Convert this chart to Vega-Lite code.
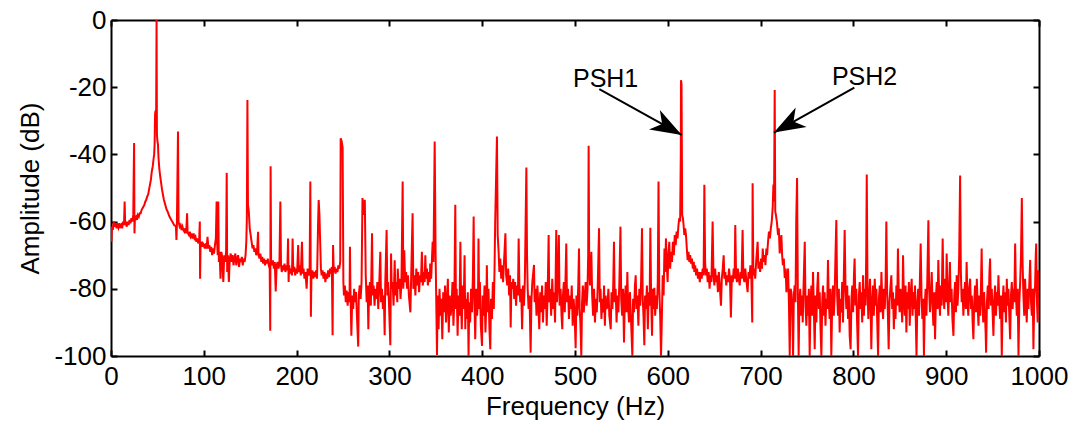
{
"$schema": "https://vega.github.io/schema/vega-lite/v6.json",
"width": 928, "height": 336,
"autosize": {"type": "none"},
"padding": {"left": 111, "top": 20, "right": 30, "bottom": 69},
"background": "white",
"config": {"view": {"stroke": null}, "font": "Liberation Sans",
 "axis": {"grid": false, "domainColor": "black", "domainWidth": 2, "tickColor": "black", "tickWidth": 2, "tickSize": -6, "labelColor": "black", "labelFontSize": 26, "labelFont": "Liberation Sans", "titleFont": "Liberation Sans", "titleFontSize": 26, "titleFontWeight": "normal", "titleColor": "black", "labelFlush": false, "labelOverlap": false}},
"datasets": {
"spectrum": [
{"f":0,"a":-62},{"f":0.5,"a":-66},{"f":1,"a":-61.5},{"f":2,"a":-62.5},{"f":3,"a":-60},{"f":4,"a":-61.5},{"f":5,"a":-60.5},{"f":6,"a":-62},{"f":7,"a":-61},{"f":8,"a":-61.8},{"f":9,"a":-60.5},{"f":10,"a":-61.5},{"f":11,"a":-61},{"f":12,"a":-62},{"f":13,"a":-60},{"f":14,"a":-61},{"f":14.7,"a":-54},{"f":15.3,"a":-61},{"f":16,"a":-60.5},{"f":17,"a":-61.5},{"f":18,"a":-60},{"f":19,"a":-61},{"f":20,"a":-59.5},{"f":21,"a":-60.5},{"f":22,"a":-59},{"f":23,"a":-60},{"f":24,"a":-58},{"f":24.5,"a":-45},{"f":24.9,"a":-36.6},{"f":25.3,"a":-63.5},{"f":25.8,"a":-59},{"f":27,"a":-58.5},{"f":28,"a":-59.5},{"f":29,"a":-58},{"f":30,"a":-58.5},{"f":31,"a":-57.5},{"f":32,"a":-57.5},{"f":33,"a":-56.5},{"f":34,"a":-56},{"f":35,"a":-55.5},{"f":36,"a":-55},{"f":37,"a":-54},{"f":38,"a":-53.5},{"f":39,"a":-52.5},{"f":40,"a":-52},{"f":41,"a":-50.5},{"f":42,"a":-49},{"f":43,"a":-47.5},{"f":44,"a":-45},{"f":45,"a":-43.5},{"f":46,"a":-41},{"f":46.5,"a":-40},{"f":47,"a":-37},{"f":47.5,"a":-28},{"f":48,"a":-27},{"f":48.6,"a":-31},{"f":49.1,"a":0},{"f":49.5,"a":-34},{"f":50,"a":-36},{"f":50.6,"a":-37},{"f":51.2,"a":-41},{"f":52,"a":-44},{"f":53,"a":-46.5},{"f":54,"a":-48.5},{"f":55,"a":-50.5},{"f":56,"a":-52},{"f":57,"a":-53.5},{"f":58,"a":-54.5},{"f":59,"a":-55.5},{"f":60,"a":-56.5},{"f":61,"a":-57},{"f":62,"a":-57.8},{"f":63,"a":-58.5},{"f":64,"a":-59},{"f":65,"a":-59.5},{"f":66,"a":-60},{"f":67,"a":-60.5},{"f":68,"a":-61},{"f":69,"a":-61.2},{"f":70,"a":-61.5},{"f":70.5,"a":-65.5},{"f":71,"a":-61},{"f":72.2,"a":-33.2},{"f":72.8,"a":-60},{"f":74,"a":-61.5},{"f":75,"a":-61},{"f":76,"a":-62.5},{"f":77,"a":-61.5},{"f":78,"a":-62.5},{"f":79,"a":-63},{"f":80,"a":-62},{"f":81,"a":-63.5},{"f":82,"a":-57.5},{"f":82.5,"a":-63},{"f":83,"a":-63.5},{"f":84,"a":-64},{"f":85,"a":-63},{"f":86,"a":-64.5},{"f":87,"a":-64},{"f":88,"a":-65},{"f":89,"a":-63.5},{"f":90,"a":-65},{"f":91,"a":-64.5},{"f":92,"a":-66},{"f":93,"a":-65},{"f":94,"a":-66.5},{"f":95,"a":-65.5},{"f":95.7,"a":-60},{"f":96,"a":-77},{"f":96.5,"a":-67},{"f":97,"a":-66},{"f":98,"a":-67.5},{"f":99,"a":-66.5},{"f":100,"a":-67},{"f":101,"a":-68},{"f":102,"a":-66.5},{"f":103,"a":-68},{"f":104,"a":-64.5},{"f":105,"a":-68},{"f":106,"a":-67},{"f":107,"a":-69},{"f":108,"a":-67.5},{"f":109,"a":-70},{"f":110,"a":-68},{"f":111,"a":-69.5},{"f":112,"a":-67},{"f":113,"a":-65},{"f":113.8,"a":-54},{"f":114.3,"a":-66},{"f":115,"a":-70},{"f":115.6,"a":-54},{"f":116.2,"a":-72},{"f":117,"a":-69},{"f":118,"a":-77},{"f":119,"a":-69},{"f":120,"a":-71},{"f":121,"a":-78},{"f":122,"a":-70},{"f":123,"a":-72},{"f":124,"a":-69},{"f":124.7,"a":-45.5},{"f":125.2,"a":-75},{"f":126,"a":-70},{"f":127,"a":-78},{"f":128,"a":-71},{"f":129,"a":-69.5},{"f":130,"a":-72},{"f":131,"a":-70},{"f":132,"a":-73},{"f":133,"a":-71},{"f":134,"a":-69.5},{"f":135,"a":-73},{"f":136,"a":-71},{"f":137,"a":-70},{"f":138,"a":-73.5},{"f":139,"a":-71},{"f":140,"a":-72},{"f":141,"a":-70.5},{"f":142,"a":-73},{"f":143,"a":-71},{"f":144,"a":-72},{"f":145,"a":-70},{"f":145.8,"a":-66},{"f":146.4,"a":-59},{"f":147,"a":-23.8},{"f":147.6,"a":-55},{"f":148.5,"a":-57},{"f":149.5,"a":-62},{"f":150.5,"a":-64},{"f":151.5,"a":-66},{"f":152.5,"a":-68},{"f":153.5,"a":-67},{"f":154.5,"a":-69},{"f":155.5,"a":-68},{"f":156.5,"a":-70},{"f":157.5,"a":-68.5},{"f":158.5,"a":-63},{"f":159,"a":-70},{"f":160,"a":-71},{"f":161,"a":-69.5},{"f":162,"a":-72},{"f":163,"a":-70.5},{"f":164,"a":-72.5},{"f":165,"a":-71},{"f":166,"a":-73},{"f":167,"a":-71.5},{"f":168,"a":-72.5},{"f":169,"a":-71},{"f":170,"a":-73},{"f":171,"a":-74},{"f":171.6,"a":-92.5},{"f":172,"a":-43.5},{"f":172.5,"a":-72},{"f":173.5,"a":-73},{"f":174.5,"a":-71.5},{"f":175.5,"a":-74},{"f":176.5,"a":-72},{"f":177.5,"a":-80.8},{"f":178.5,"a":-73},{"f":179.5,"a":-72},{"f":180.5,"a":-74},{"f":181.5,"a":-72.5},{"f":182.5,"a":-54},{"f":183.2,"a":-73},{"f":184,"a":-75},{"f":185,"a":-73},{"f":186,"a":-74.5},{"f":187,"a":-72.5},{"f":188,"a":-75},{"f":189,"a":-73},{"f":190,"a":-74.5},{"f":190.8,"a":-65},{"f":191.4,"a":-78},{"f":192,"a":-73},{"f":193,"a":-75.5},{"f":194,"a":-74},{"f":195,"a":-76},{"f":195.7,"a":-65},{"f":196.4,"a":-75},{"f":197.5,"a":-73.5},{"f":198.5,"a":-76},{"f":199.5,"a":-74},{"f":200.5,"a":-75.5},{"f":201.7,"a":-67},{"f":202.4,"a":-75},{"f":203.5,"a":-73},{"f":204.5,"a":-76},{"f":205.8,"a":-66},{"f":206.5,"a":-75.5},{"f":207.5,"a":-74},{"f":208.5,"a":-77},{"f":209.5,"a":-75},{"f":210.8,"a":-80},{"f":211.8,"a":-74},{"f":213,"a":-76},{"f":214,"a":-75},{"f":214.8,"a":-48.1},{"f":215.4,"a":-88.3},{"f":216,"a":-76},{"f":217,"a":-74.5},{"f":218,"a":-77},{"f":219,"a":-75},{"f":220,"a":-76.5},{"f":221,"a":-74.5},{"f":222,"a":-77},{"f":223.2,"a":-60},{"f":223.8,"a":-53.6},{"f":224.6,"a":-58},{"f":225.4,"a":-66},{"f":226.2,"a":-74},{"f":227,"a":-76},{"f":228,"a":-74.5},{"f":229,"a":-77},{"f":230,"a":-75},{"f":231,"a":-78},{"f":232,"a":-75.5},{"f":233,"a":-77},{"f":234,"a":-74.5},{"f":235,"a":-76.5},{"f":236,"a":-74},{"f":237,"a":-75.5},{"f":238,"a":-73.5},{"f":238.8,"a":-93.8},{"f":239.3,"a":-67},{"f":240,"a":-75},{"f":241,"a":-73.5},{"f":242,"a":-75.5},{"f":243,"a":-74},{"f":244,"a":-75},{"f":245,"a":-73},{"f":246,"a":-74},{"f":247,"a":-72},{"f":247.5,"a":-35.2},{"f":248.5,"a":-36},{"f":249.6,"a":-38},{"f":250.4,"a":-78},{"f":251,"a":-82},{"f":252,"a":-79},{"f":253,"a":-84},{"f":254,"a":-80.5},{"f":255,"a":-85},{"f":256,"a":-81},{"f":257,"a":-84},{"f":257.5,"a":-67.5},{"f":258,"a":-80},{"f":259,"a":-94},{"f":260,"a":-82},{"f":261,"a":-86},{"f":262,"a":-80},{"f":263,"a":-84},{"f":264,"a":-81},{"f":265,"a":-88},{"f":266.4,"a":-97.2},{"f":267,"a":-82},{"f":268,"a":-79},{"f":269,"a":-83},{"f":270,"a":-78},{"f":271,"a":-53},{"f":272.5,"a":-58},{"f":273.5,"a":-53.5},{"f":274.5,"a":-76},{"f":275.5,"a":-84},{"f":276.5,"a":-79},{"f":277.3,"a":-92},{"f":278,"a":-82},{"f":279,"a":-78},{"f":280,"a":-85},{"f":281.3,"a":-63.5},{"f":282,"a":-82},{"f":283,"a":-79},{"f":284,"a":-85},{"f":285,"a":-80},{"f":286,"a":-83},{"f":287,"a":-78},{"f":288,"a":-86},{"f":289,"a":-79},{"f":290.2,"a":-69},{"f":291,"a":-84},{"f":292,"a":-80},{"f":293,"a":-86},{"f":294,"a":-82},{"f":294.9,"a":-93.8},{"f":295.5,"a":-79},{"f":297,"a":-62.5},{"f":297.8,"a":-82},{"f":298.5,"a":-78},{"f":299.5,"a":-84},{"f":301,"a":-96.8},{"f":301.8,"a":-69.5},{"f":302.5,"a":-80},{"f":303.5,"a":-78},{"f":304.5,"a":-85},{"f":305.7,"a":-71.5},{"f":306.5,"a":-82},{"f":307.5,"a":-78},{"f":308.5,"a":-84},{"f":309,"a":-74},{"f":310,"a":-80},{"f":311,"a":-77},{"f":312,"a":-83},{"f":313,"a":-78},{"f":314.3,"a":-48.1},{"f":315,"a":-80},{"f":316,"a":-68.5},{"f":317,"a":-78},{"f":318,"a":-75},{"f":319,"a":-80},{"f":320,"a":-76},{"f":321,"a":-82},{"f":322.6,"a":-87},{"f":323.5,"a":-76},{"f":325,"a":-57.5},{"f":325.8,"a":-80},{"f":327,"a":-76},{"f":328,"a":-82},{"f":329,"a":-74},{"f":330,"a":-79},{"f":331,"a":-75},{"f":332,"a":-81},{"f":333,"a":-76},{"f":334,"a":-78},{"f":335,"a":-69},{"f":336,"a":-79},{"f":337,"a":-75},{"f":338,"a":-78},{"f":338.7,"a":-70},{"f":339.5,"a":-77},{"f":340.5,"a":-74},{"f":341.5,"a":-79},{"f":342.5,"a":-75},{"f":343.5,"a":-78},{"f":344,"a":-72.5},{"f":345,"a":-77},{"f":346.6,"a":-66},{"f":347.5,"a":-72},{"f":348.8,"a":-36.2},{"f":349.8,"a":-70},{"f":351.3,"a":-99.7},{"f":352,"a":-82},{"f":353,"a":-92},{"f":354,"a":-80},{"f":355,"a":-88},{"f":356,"a":-83},{"f":357,"a":-95},{"f":358,"a":-81},{"f":359,"a":-87},{"f":360,"a":-79},{"f":361,"a":-90},{"f":362,"a":-84},{"f":363,"a":-77},{"f":364,"a":-93},{"f":365,"a":-82},{"f":366,"a":-88},{"f":367,"a":-85},{"f":368,"a":-78},{"f":369,"a":-91},{"f":370,"a":-83},{"f":371,"a":-55},{"f":371.7,"a":-86},{"f":372.5,"a":-80},{"f":373.5,"a":-94},{"f":374.5,"a":-82},{"f":375.5,"a":-88},{"f":376.5,"a":-66},{"f":377.2,"a":-84},{"f":378,"a":-92},{"f":379,"a":-79},{"f":380,"a":-86},{"f":381,"a":-70},{"f":381.8,"a":-92},{"f":382.5,"a":-83},{"f":383.5,"a":-89},{"f":384.5,"a":-81},{"f":385.3,"a":-100},{"f":386,"a":-84},{"f":387,"a":-90},{"f":388,"a":-80},{"f":389,"a":-87},{"f":390,"a":-76},{"f":390.8,"a":-58.5},{"f":391.5,"a":-82},{"f":392.5,"a":-95},{"f":393.5,"a":-80},{"f":394.5,"a":-88},{"f":395.5,"a":-83},{"f":396,"a":-65},{"f":396.8,"a":-86},{"f":397.5,"a":-78},{"f":398.5,"a":-91},{"f":399.8,"a":-97},{"f":400.5,"a":-82},{"f":401.5,"a":-88},{"f":402.5,"a":-79},{"f":403.5,"a":-93},{"f":404.5,"a":-84},{"f":405,"a":-73},{"f":405.8,"a":-87},{"f":406.8,"a":-80},{"f":407.8,"a":-92},{"f":408.7,"a":-98},{"f":409.5,"a":-83},{"f":410.5,"a":-89},{"f":411.5,"a":-78},{"f":412.5,"a":-86},{"f":413.3,"a":-74},{"f":414,"a":-60},{"f":415.9,"a":-34.7},{"f":416.7,"a":-64},{"f":417.7,"a":-69},{"f":418.5,"a":-75},{"f":419.5,"a":-71},{"f":420.5,"a":-77},{"f":421.5,"a":-73},{"f":422.5,"a":-78},{"f":423.5,"a":-72},{"f":425,"a":-63.5},{"f":425.8,"a":-76},{"f":427,"a":-79},{"f":428,"a":-74},{"f":429,"a":-82},{"f":430,"a":-76},{"f":430.7,"a":-91.5},{"f":431.5,"a":-78},{"f":432.5,"a":-80},{"f":433.5,"a":-77},{"f":434.5,"a":-83},{"f":435.5,"a":-78},{"f":436.5,"a":-85},{"f":437.5,"a":-79},{"f":438.5,"a":-82},{"f":439.3,"a":-65},{"f":440,"a":-78},{"f":441,"a":-84},{"f":442,"a":-80},{"f":443,"a":-92},{"f":444,"a":-79},{"f":445,"a":-85},{"f":446,"a":-77},{"f":446.8,"a":-60},{"f":447.6,"a":-43.9},{"f":448.3,"a":-70},{"f":449,"a":-80},{"f":450,"a":-86},{"f":451,"a":-82},{"f":452.2,"a":-99},{"f":453,"a":-84},{"f":454,"a":-78},{"f":455.8,"a":-72.9},{"f":456.5,"a":-84},{"f":457.5,"a":-80},{"f":458.5,"a":-88},{"f":459.5,"a":-79},{"f":460.5,"a":-85},{"f":461.5,"a":-92},{"f":462.5,"a":-81},{"f":463.5,"a":-87},{"f":464.5,"a":-79},{"f":465.5,"a":-90},{"f":466.5,"a":-82},{"f":467.5,"a":-86},{"f":468.5,"a":-78},{"f":469.5,"a":-91},{"f":470.5,"a":-82},{"f":471.6,"a":-64},{"f":472.3,"a":-84},{"f":473.3,"a":-80},{"f":474.3,"a":-88},{"f":475.5,"a":-77},{"f":476.5,"a":-86},{"f":477.5,"a":-81},{"f":478.5,"a":-90},{"f":479.8,"a":-62.5},{"f":480.5,"a":-84},{"f":481.5,"a":-79},{"f":482.6,"a":-64},{"f":483.4,"a":-85},{"f":484.5,"a":-80},{"f":485.5,"a":-88},{"f":486.3,"a":-92},{"f":487,"a":-82},{"f":488,"a":-78},{"f":489,"a":-87},{"f":490.6,"a":-66.5},{"f":491.4,"a":-84},{"f":492.5,"a":-80},{"f":493.5,"a":-89},{"f":494.5,"a":-82},{"f":495.5,"a":-86},{"f":496.5,"a":-79},{"f":497.5,"a":-91},{"f":498.5,"a":-83},{"f":499.5,"a":-87},{"f":500.7,"a":-97.7},{"f":501.5,"a":-82},{"f":502.5,"a":-88},{"f":503.5,"a":-79},{"f":504.3,"a":-68},{"f":505,"a":-86},{"f":505.8,"a":-90},{"f":506.8,"a":-100},{"f":507.6,"a":-84},{"f":508.5,"a":-79},{"f":509.5,"a":-87},{"f":510.5,"a":-82},{"f":511.5,"a":-78},{"f":512.5,"a":-85},{"f":513.5,"a":-80},{"f":514.2,"a":-70},{"f":514.7,"a":-37.4},{"f":515.3,"a":-72},{"f":516.2,"a":-79},{"f":517.6,"a":-69},{"f":518.5,"a":-82},{"f":519.5,"a":-88},{"f":520.5,"a":-80},{"f":521.5,"a":-90},{"f":522.5,"a":-83},{"f":523.5,"a":-87},{"f":524.5,"a":-79},{"f":525.9,"a":-62},{"f":526.7,"a":-84},{"f":527.5,"a":-80},{"f":528.5,"a":-89},{"f":529.5,"a":-83},{"f":530.5,"a":-87},{"f":531.3,"a":-79},{"f":532.2,"a":-91},{"f":533,"a":-82},{"f":534,"a":-86},{"f":535,"a":-85},{"f":536,"a":-80},{"f":537,"a":-88},{"f":538.5,"a":-92},{"f":539.3,"a":-81},{"f":540.3,"a":-86},{"f":541.2,"a":-79},{"f":542,"a":-66},{"f":542.8,"a":-84},{"f":543.8,"a":-80},{"f":544.8,"a":-90},{"f":545.8,"a":-82},{"f":546.8,"a":-87},{"f":547.8,"a":-78},{"f":549,"a":-61.5},{"f":549.8,"a":-83},{"f":550.8,"a":-88},{"f":551.8,"a":-80},{"f":552.8,"a":-96},{"f":553.6,"a":-84},{"f":554.6,"a":-79},{"f":555.5,"a":-87},{"f":556.4,"a":-75},{"f":557.2,"a":-85},{"f":558.2,"a":-90},{"f":559.2,"a":-81},{"f":560.2,"a":-88},{"f":561.8,"a":-100},{"f":562.6,"a":-83},{"f":563.6,"a":-87},{"f":564.6,"a":-79},{"f":565.4,"a":-76},{"f":566.3,"a":-86},{"f":567.3,"a":-82},{"f":568.3,"a":-91},{"f":569.3,"a":-80},{"f":570.3,"a":-85},{"f":571.2,"a":-78},{"f":572.2,"a":-62},{"f":573,"a":-83},{"f":573.8,"a":-88},{"f":574.7,"a":-96.8},{"f":575.5,"a":-82},{"f":576.5,"a":-86},{"f":577.5,"a":-79},{"f":578.5,"a":-92},{"f":579.5,"a":-81},{"f":580.4,"a":-85},{"f":581.2,"a":-61.8},{"f":582,"a":-82},{"f":583,"a":-94},{"f":583.8,"a":-80},{"f":584.7,"a":-86},{"f":585.5,"a":-79.7},{"f":586.4,"a":-88},{"f":587.3,"a":-82},{"f":588.2,"a":-86},{"f":589.2,"a":-78},{"f":590,"a":-48.1},{"f":590.8,"a":-80},{"f":591.8,"a":-88},{"f":592.7,"a":-100},{"f":593.5,"a":-90},{"f":594.5,"a":-76},{"f":595.5,"a":-82},{"f":596.4,"a":-68},{"f":597.2,"a":-75},{"f":598,"a":-65},{"f":598.8,"a":-72},{"f":599.8,"a":-78},{"f":600.6,"a":-70},{"f":601.6,"a":-66},{"f":602.5,"a":-74},{"f":603.5,"a":-69},{"f":604.5,"a":-72},{"f":605.5,"a":-66},{"f":606.5,"a":-70},{"f":607.5,"a":-64},{"f":608.5,"a":-67},{"f":609.5,"a":-63},{"f":610.5,"a":-65},{"f":611.5,"a":-61},{"f":612.4,"a":-59},{"f":613.3,"a":-60},{"f":614,"a":-40},{"f":614.2,"a":-17.9},{"f":614.8,"a":-19},{"f":615.5,"a":-58},{"f":616.3,"a":-59},{"f":617,"a":-61},{"f":617.8,"a":-64},{"f":618.7,"a":-62},{"f":619.6,"a":-64},{"f":620.5,"a":-68},{"f":621.4,"a":-71.5},{"f":622.3,"a":-69},{"f":623.2,"a":-72},{"f":624.1,"a":-70},{"f":625,"a":-72.5},{"f":626,"a":-71},{"f":627,"a":-74},{"f":628,"a":-72},{"f":628.6,"a":-75},{"f":629.5,"a":-73},{"f":630.5,"a":-76},{"f":631.5,"a":-74},{"f":632.5,"a":-77},{"f":633.5,"a":-75},{"f":634.5,"a":-78},{"f":635.5,"a":-75},{"f":636.5,"a":-77},{"f":637.6,"a":-74},{"f":638.6,"a":-76},{"f":639.4,"a":-49},{"f":640.2,"a":-72},{"f":641,"a":-76},{"f":642,"a":-74},{"f":643,"a":-78},{"f":644,"a":-75},{"f":645,"a":-80},{"f":646,"a":-76},{"f":647,"a":-78},{"f":648.3,"a":-60},{"f":649.2,"a":-76},{"f":650.2,"a":-79},{"f":651,"a":-74},{"f":652,"a":-78},{"f":653,"a":-76},{"f":654,"a":-81},{"f":655,"a":-75},{"f":656,"a":-79},{"f":657.3,"a":-85},{"f":658.2,"a":-77},{"f":659.2,"a":-74},{"f":660.2,"a":-70},{"f":661,"a":-77},{"f":662,"a":-75},{"f":663,"a":-79},{"f":664,"a":-76},{"f":665,"a":-78},{"f":666,"a":-74},{"f":667,"a":-77},{"f":668,"a":-88.5},{"f":669,"a":-76},{"f":670,"a":-78},{"f":671,"a":-74},{"f":672,"a":-77},{"f":672.7,"a":-61},{"f":673.5,"a":-75},{"f":674.5,"a":-78},{"f":675.5,"a":-74},{"f":676.5,"a":-77},{"f":677.5,"a":-79},{"f":678.5,"a":-75},{"f":679.5,"a":-77},{"f":680.6,"a":-62.5},{"f":681.4,"a":-76},{"f":682.5,"a":-78},{"f":683.5,"a":-74},{"f":684.5,"a":-77},{"f":686,"a":-81},{"f":687,"a":-75},{"f":688,"a":-77},{"f":689,"a":-73},{"f":690,"a":-76},{"f":691,"a":-90},{"f":691.4,"a":-48.6},{"f":692.2,"a":-76},{"f":693.2,"a":-74},{"f":694.2,"a":-77},{"f":695.2,"a":-72},{"f":696.8,"a":-66},{"f":697.6,"a":-74},{"f":698.5,"a":-72},{"f":699.5,"a":-75},{"f":700.5,"a":-71},{"f":701.5,"a":-74},{"f":702.3,"a":-68},{"f":703.2,"a":-72},{"f":704.2,"a":-70},{"f":705.2,"a":-73},{"f":706.2,"a":-68},{"f":707,"a":-70},{"f":708,"a":-66},{"f":709,"a":-63},{"f":710,"a":-65},{"f":711,"a":-62},{"f":712,"a":-60},{"f":713,"a":-56},{"f":713.8,"a":-49},{"f":714.5,"a":-54},{"f":715.2,"a":-20.8},{"f":715.8,"a":-57},{"f":716.5,"a":-58},{"f":717.5,"a":-60},{"f":718.8,"a":-64},{"f":719.6,"a":-62},{"f":720.6,"a":-69.5},{"f":721.5,"a":-66},{"f":722.4,"a":-64},{"f":723.2,"a":-70},{"f":724,"a":-73},{"f":725,"a":-71},{"f":726,"a":-76.8},{"f":727,"a":-74},{"f":727.8,"a":-81},{"f":728.7,"a":-77},{"f":729.6,"a":-74},{"f":730.5,"a":-84},{"f":731.4,"a":-100},{"f":732.3,"a":-80},{"f":733.2,"a":-81},{"f":734.1,"a":-86},{"f":735,"a":-100},{"f":735.8,"a":-82},{"f":736.7,"a":-79},{"f":737.6,"a":-84},{"f":738.4,"a":-60},{"f":739.3,"a":-47},{"f":740.1,"a":-80},{"f":741,"a":-100},{"f":741.8,"a":-84},{"f":742.7,"a":-80},{"f":743.6,"a":-88},{"f":744.5,"a":-82},{"f":745.4,"a":-90},{"f":746.3,"a":-79},{"f":747.6,"a":-66},{"f":748.4,"a":-85},{"f":749.3,"a":-91},{"f":750.2,"a":-82},{"f":751.1,"a":-88},{"f":752,"a":-80},{"f":752.9,"a":-100},{"f":753.8,"a":-84},{"f":754.7,"a":-79},{"f":755.6,"a":-88},{"f":756.5,"a":-75},{"f":757.4,"a":-86},{"f":758.3,"a":-98},{"f":759.2,"a":-82},{"f":760.1,"a":-90},{"f":761,"a":-80},{"f":761.9,"a":-75},{"f":762.8,"a":-86},{"f":763.7,"a":-81},{"f":764.6,"a":-92},{"f":765.5,"a":-100},{"f":766.4,"a":-84},{"f":767.3,"a":-79},{"f":768.2,"a":-88},{"f":769,"a":-81},{"f":769.9,"a":-91},{"f":770.8,"a":-83},{"f":771.7,"a":-86},{"f":772.6,"a":-71.4},{"f":773.5,"a":-84},{"f":774.4,"a":-89},{"f":775.3,"a":-80},{"f":776.2,"a":-100},{"f":777.1,"a":-85},{"f":778,"a":-79},{"f":778.9,"a":-88},{"f":779.8,"a":-82},{"f":780.7,"a":-70},{"f":781.6,"a":-59.5},{"f":782.5,"a":-82},{"f":783.4,"a":-88},{"f":784.3,"a":-80},{"f":785.2,"a":-93},{"f":786.1,"a":-83},{"f":787,"a":-87},{"f":787.9,"a":-78},{"f":788.8,"a":-90},{"f":789.7,"a":-76},{"f":790.6,"a":-62.5},{"f":791.5,"a":-80},{"f":792.4,"a":-86},{"f":793.3,"a":-79},{"f":794.2,"a":-89},{"f":795.1,"a":-82},{"f":796,"a":-94},{"f":797,"a":-98},{"f":797.9,"a":-83},{"f":798.8,"a":-79},{"f":799.7,"a":-87},{"f":800.6,"a":-76},{"f":801.3,"a":-71},{"f":802.2,"a":-85},{"f":803.1,"a":-80},{"f":804,"a":-90},{"f":805,"a":-100},{"f":805.9,"a":-82},{"f":806.8,"a":-78},{"f":807.7,"a":-86},{"f":808.6,"a":-81},{"f":809.5,"a":-90},{"f":810.4,"a":-76},{"f":811.3,"a":-88},{"f":812.2,"a":-80},{"f":813.1,"a":-85},{"f":813.8,"a":-70},{"f":814.4,"a":-46},{"f":815.2,"a":-80},{"f":816.1,"a":-89},{"f":817,"a":-82},{"f":817.9,"a":-77},{"f":818.6,"a":-86},{"f":819.3,"a":-98},{"f":820.2,"a":-84},{"f":821.1,"a":-79},{"f":822,"a":-88},{"f":823,"a":-77},{"f":823.9,"a":-85},{"f":824.8,"a":-80},{"f":825.7,"a":-90},{"f":826.6,"a":-100},{"f":827.5,"a":-83},{"f":828.4,"a":-79},{"f":829.3,"a":-87},{"f":830.2,"a":-75},{"f":831.1,"a":-84},{"f":832,"a":-89},{"f":832.9,"a":-80},{"f":833.8,"a":-86},{"f":834.7,"a":-78},{"f":835.5,"a":-60},{"f":836.3,"a":-80},{"f":837.2,"a":-88},{"f":838,"a":-98},{"f":838.9,"a":-84},{"f":839.8,"a":-80},{"f":840.9,"a":-76},{"f":841.8,"a":-86},{"f":842.7,"a":-81},{"f":843.6,"a":-92},{"f":844.5,"a":-83},{"f":845.4,"a":-89},{"f":846.3,"a":-79},{"f":847.2,"a":-85},{"f":848,"a":-68},{"f":848.9,"a":-82},{"f":849.8,"a":-87},{"f":850.7,"a":-80},{"f":851.7,"a":-84},{"f":852.6,"a":-90},{"f":853.5,"a":-70},{"f":854.4,"a":-83},{"f":855.3,"a":-88},{"f":856.2,"a":-79},{"f":857.1,"a":-93},{"f":858,"a":-81},{"f":858.9,"a":-86},{"f":859.8,"a":-78},{"f":860.7,"a":-91},{"f":861.6,"a":-82},{"f":862.8,"a":-77},{"f":863.7,"a":-88},{"f":864.6,"a":-81},{"f":865.5,"a":-86},{"f":866.4,"a":-79},{"f":867.3,"a":-90},{"f":868,"a":-100},{"f":868.9,"a":-84},{"f":869.8,"a":-80},{"f":870.7,"a":-88},{"f":871.6,"a":-78},{"f":872.5,"a":-66.5},{"f":873.4,"a":-82},{"f":874.3,"a":-89},{"f":875.2,"a":-83},{"f":876,"a":-100},{"f":876.9,"a":-85},{"f":877.8,"a":-80},{"f":878.7,"a":-88},{"f":879.6,"a":-78},{"f":880.8,"a":-59.6},{"f":881.6,"a":-80},{"f":882.5,"a":-87},{"f":883.4,"a":-82},{"f":884.4,"a":-75},{"f":885.3,"a":-85},{"f":886.2,"a":-91},{"f":887.1,"a":-81},{"f":888,"a":-95},{"f":888.9,"a":-83},{"f":889.8,"a":-78},{"f":890.7,"a":-86},{"f":891.5,"a":-71.4},{"f":892.4,"a":-82},{"f":893.3,"a":-88},{"f":894.2,"a":-79},{"f":895.1,"a":-85},{"f":896.2,"a":-65},{"f":897,"a":-80},{"f":897.9,"a":-86},{"f":898.8,"a":-77},{"f":899.7,"a":-84},{"f":900.5,"a":-69.5},{"f":901.4,"a":-82},{"f":902.3,"a":-88},{"f":903.2,"a":-79},{"f":904,"a":-72},{"f":904.9,"a":-84},{"f":905.8,"a":-80},{"f":906.7,"a":-89},{"f":907.8,"a":-94},{"f":908.7,"a":-82},{"f":909.6,"a":-78},{"f":910.5,"a":-87},{"f":911.3,"a":-76},{"f":912.2,"a":-85},{"f":913.1,"a":-80},{"f":914,"a":-70},{"f":915,"a":-46.3},{"f":915.8,"a":-75},{"f":916.7,"a":-84},{"f":917.6,"a":-80},{"f":918.5,"a":-88},{"f":919.4,"a":-82},{"f":920.3,"a":-78},{"f":921.2,"a":-86},{"f":922,"a":-72},{"f":922.9,"a":-83},{"f":923.8,"a":-88},{"f":924.7,"a":-80},{"f":925.8,"a":-77},{"f":926.7,"a":-86},{"f":927.6,"a":-82},{"f":928.5,"a":-90},{"f":929.3,"a":-95},{"f":930.2,"a":-84},{"f":931.1,"a":-79},{"f":932,"a":-87},{"f":933,"a":-77},{"f":933.9,"a":-85},{"f":934.8,"a":-91},{"f":935.7,"a":-82},{"f":936.6,"a":-88},{"f":937.5,"a":-79},{"f":938.2,"a":-68},{"f":939,"a":-84},{"f":939.9,"a":-90},{"f":940.8,"a":-81},{"f":941.7,"a":-87},{"f":942.5,"a":-93},{"f":943,"a":-99},{"f":943.9,"a":-84},{"f":944.8,"a":-79},{"f":945.7,"a":-86},{"f":946.6,"a":-75},{"f":947.3,"a":-71},{"f":948.2,"a":-85},{"f":949.1,"a":-80},{"f":950,"a":-87},{"f":950.9,"a":-94},{"f":951.8,"a":-83},{"f":952.7,"a":-79},{"f":953.6,"a":-88},{"f":954.5,"a":-81},{"f":955.4,"a":-85},{"f":956.3,"a":-76},{"f":957.2,"a":-84},{"f":958.1,"a":-89},{"f":959,"a":-82},{"f":959.9,"a":-100},{"f":960.8,"a":-84},{"f":961.7,"a":-79},{"f":962.6,"a":-87},{"f":963.5,"a":-81},{"f":964.4,"a":-90},{"f":965.3,"a":-77},{"f":966.2,"a":-85},{"f":967.1,"a":-80},{"f":968,"a":-88},{"f":968.9,"a":-95},{"f":969.8,"a":-82},{"f":970.7,"a":-78},{"f":971.6,"a":-86},{"f":972.5,"a":-80},{"f":973.4,"a":-84},{"f":974.3,"a":-66.5},{"f":975.2,"a":-82},{"f":976.1,"a":-88},{"f":977,"a":-80},{"f":977.9,"a":-100},{"f":978.8,"a":-84},{"f":979.7,"a":-78},{"f":980.6,"a":-70},{"f":981.5,"a":-53},{"f":982.3,"a":-72},{"f":983.2,"a":-82},{"f":984.1,"a":-88},{"f":985,"a":-77},{"f":985.9,"a":-84},{"f":986.8,"a":-90},{"f":987.7,"a":-80},{"f":988.6,"a":-86},{"f":989.5,"a":-79},{"f":990.5,"a":-71.4},{"f":991.4,"a":-84},{"f":992.3,"a":-88},{"f":993.2,"a":-80},{"f":994,"a":-98},{"f":994.9,"a":-83},{"f":995.8,"a":-79},{"f":996.5,"a":-70},{"f":997,"a":-66.5},{"f":997.8,"a":-84},{"f":998.6,"a":-90},{"f":999.3,"a":-74.5},{"f":1000,"a":-82}
],
"notes": [
{"label":"PSH1","tf":533,"ta":-19.8,"f1":526.2,"a1":-20.6,"f2":615,"a2":-34.2},
{"label":"PSH2","tf":812,"ta":-19.2,"f1":801,"a1":-20.1,"f2":714.4,"a2":-33.5}
]
},
"layer": [
{"data": {"name": "spectrum"},
 "mark": {"type": "line", "color": "#ff0000", "strokeWidth": 2, "clip": true},
 "encoding": {
  "x": {"field": "f", "type": "quantitative", "scale": {"domain": [0, 1000], "nice": false, "zero": false},
   "axis": {"orient": "bottom", "values": [0,100,200,300,400,500,600,700,800,900,1000], "format": "d", "title": "Frequency (Hz)", "labelPadding": 13, "titlePadding": 4}},
  "y": {"field": "a", "type": "quantitative", "scale": {"domain": [-100, 0], "nice": false, "zero": false},
   "axis": {"orient": "left", "values": [-100,-80,-60,-40,-20,0], "title": "Amplitude (dB)", "labelPadding": 11, "titlePadding": 10, "labelExpr": "datum.value < 0 ? '-' + abs(datum.value) : '0'"}}
 }},
{"data": {"name": "notes"},
 "mark": {"type": "rule", "color": "black", "strokeWidth": 2},
 "encoding": {
  "x": {"field": "f1", "type": "quantitative", "scale": {"domain": [0, 1000], "nice": false, "zero": false},
   "axis": {"orient": "top", "values": [0,100,200,300,400,500,600,700,800,900,1000], "labels": false, "title": null}},
  "y": {"field": "a1", "type": "quantitative", "scale": {"domain": [-100, 0], "nice": false, "zero": false},
   "axis": {"orient": "right", "values": [-100,-80,-60,-40,-20,0], "labels": false, "title": null}},
  "x2": {"field": "f2"}, "y2": {"field": "a2"}
 }},
{"data": {"name": "notes"},
 "transform": [{"filter": "datum.label == 'PSH1'"}],
 "mark": {"type": "point", "shape": "M0,0 L-1.95,-0.7 L-1.4,0 L-1.95,0.7 Z", "size": 1024, "angle": 29, "filled": true, "color": "black", "opacity": 1, "strokeWidth": 0},
 "encoding": {
  "x": {"field": "f2", "type": "quantitative", "scale": {"domain": [0, 1000], "nice": false, "zero": false}, "axis": null},
  "y": {"field": "a2", "type": "quantitative", "scale": {"domain": [-100, 0], "nice": false, "zero": false}, "axis": null}
 }},
{"data": {"name": "notes"},
 "transform": [{"filter": "datum.label == 'PSH2'"}],
 "mark": {"type": "point", "shape": "M0,0 L-1.95,-0.7 L-1.4,0 L-1.95,0.7 Z", "size": 1024, "angle": 150.7, "filled": true, "color": "black", "opacity": 1, "strokeWidth": 0},
 "encoding": {
  "x": {"field": "f2", "type": "quantitative", "scale": {"domain": [0, 1000], "nice": false, "zero": false}, "axis": null},
  "y": {"field": "a2", "type": "quantitative", "scale": {"domain": [-100, 0], "nice": false, "zero": false}, "axis": null}
 }},
{"data": {"name": "notes"},
 "mark": {"type": "text", "fontSize": 25, "font": "Liberation Sans", "color": "black", "align": "center", "baseline": "alphabetic"},
 "encoding": {
  "x": {"field": "tf", "type": "quantitative", "scale": {"domain": [0, 1000], "nice": false, "zero": false}, "axis": null},
  "y": {"field": "ta", "type": "quantitative", "scale": {"domain": [-100, 0], "nice": false, "zero": false}, "axis": null},
  "text": {"field": "label"}
 }}
],
"resolve": {"axis": {"x": "independent", "y": "independent"}}
}
